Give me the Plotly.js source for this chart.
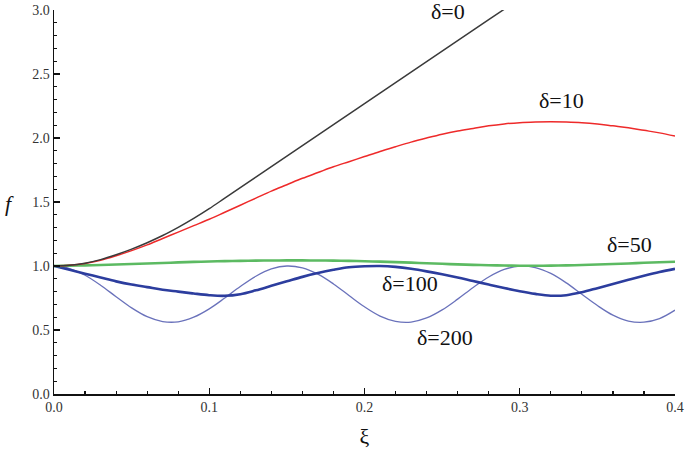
<!DOCTYPE html>
<html>
<head>
<meta charset="utf-8">
<script src="https://cdn.plot.ly/plotly-3.0.1.min.js"></script>
<style>
  html, body { margin: 0; padding: 0; background: #fff; }
  #chart { width: 685px; height: 453px; }
</style>
</head>
<body>
<div id="chart"></div>
<script>
// xi values shared by most curves
var xi = [0.00, 0.01, 0.02, 0.03, 0.04, 0.05, 0.06, 0.07, 0.08, 0.09,
          0.10, 0.11, 0.12, 0.13, 0.14, 0.15, 0.16, 0.17, 0.18, 0.19,
          0.20, 0.21, 0.22, 0.23, 0.24, 0.25, 0.26, 0.27, 0.28, 0.29,
          0.30, 0.31, 0.32, 0.33, 0.34, 0.35, 0.36, 0.37, 0.38, 0.39, 0.40];

// delta = 0 stops where it leaves the top of the plot
var xi0 = [0.00, 0.01, 0.02, 0.03, 0.04, 0.05, 0.06, 0.07, 0.08, 0.09,
           0.10, 0.11, 0.12, 0.13, 0.14, 0.15, 0.16, 0.17, 0.18, 0.19,
           0.20, 0.21, 0.22, 0.23, 0.24, 0.25, 0.26, 0.27, 0.28, 0.29];
var f0 = [1.000, 1.005, 1.022, 1.05, 1.088, 1.132, 1.182, 1.238, 1.302, 1.372,
          1.448, 1.53, 1.612, 1.694, 1.776, 1.858, 1.94, 2.022, 2.104, 2.186,
          2.268, 2.35, 2.432, 2.514, 2.596, 2.678, 2.76, 2.842, 2.924, 3.006];

var f10 = [1.000, 1.005, 1.02, 1.045, 1.08, 1.12, 1.165, 1.215, 1.265, 1.315,
           1.365, 1.42, 1.475, 1.53, 1.585, 1.635, 1.685, 1.73, 1.775, 1.815,
           1.855, 1.895, 1.932, 1.968, 2.00, 2.03, 2.055, 2.075, 2.095, 2.11,
           2.12, 2.125, 2.127, 2.125, 2.12, 2.11, 2.095, 2.08, 2.06, 2.04, 2.015];

var f50 = [1.000, 1.003, 1.005, 1.008, 1.012, 1.016, 1.02, 1.024, 1.028, 1.032,
           1.035, 1.038, 1.04, 1.042, 1.043, 1.044, 1.044, 1.043, 1.042, 1.04,
           1.037, 1.034, 1.03, 1.026, 1.022, 1.017, 1.013, 1.009, 1.006, 1.004,
           1.002, 1.002, 1.003, 1.005, 1.008, 1.012, 1.016, 1.02, 1.025, 1.029, 1.033];

var f100 = [1.000, 0.97, 0.94, 0.91, 0.88, 0.855, 0.835, 0.815, 0.80, 0.785,
            0.772, 0.767, 0.78, 0.81, 0.845, 0.88, 0.915, 0.945, 0.97, 0.99,
            0.998, 1.000, 0.993, 0.978, 0.958, 0.935, 0.91, 0.882, 0.855, 0.828,
            0.803, 0.782, 0.768, 0.772, 0.795, 0.827, 0.86, 0.893, 0.924, 0.953, 0.978];

var f200 = [1.000, 0.98, 0.928, 0.85, 0.76, 0.673, 0.604, 0.566, 0.564, 0.60,
            0.665, 0.75, 0.84, 0.92, 0.977, 1.000, 0.985, 0.936, 0.86, 0.77,
            0.681, 0.609, 0.568, 0.562, 0.594, 0.657, 0.741, 0.832, 0.914, 0.973,
            0.999, 0.988, 0.942, 0.868, 0.779, 0.691, 0.616, 0.57, 0.561, 0.589, 0.655];

var xTicks = [0, 0.1, 0.2, 0.3, 0.4];
var xTickText = ['0.0', '0.1', '0.2', '0.3', '0.4'];
var yTicks = [0, 0.5, 1, 1.5, 2, 2.5, 3];
var yTickText = ['0.0', '0.5', '1.0', '1.5', '2.0', '2.5', '3.0'];

var labels = ['δ=0', 'δ=10', 'δ=50', 'δ=100', 'δ=200'];
var labelX = [0.254, 0.327, 0.3705, 0.229, 0.252];
var labelY = [2.99, 2.29, 1.17, 0.86, 0.445];

var data = [
    { x: xi, y: f200, type: 'scatter', mode: 'lines', name: labels[4],
      line: { color: '#6a72bb', width: 1.3, shape: 'spline' } },
    { x: xi, y: f100, type: 'scatter', mode: 'lines', name: labels[3],
      line: { color: '#2c3d9e', width: 2.6, shape: 'spline' } },
    { x: xi, y: f50, type: 'scatter', mode: 'lines', name: labels[2],
      line: { color: '#5cba62', width: 2.6, shape: 'spline' } },
    { x: xi, y: f10, type: 'scatter', mode: 'lines', name: labels[1],
      line: { color: '#ee2a2a', width: 1.5, shape: 'spline' } },
    { x: xi0, y: f0, type: 'scatter', mode: 'lines', name: labels[0],
      line: { color: '#3a3a3a', width: 1.5, shape: 'spline' } }
];

var annos = labels.map(function (t, i) {
    return { x: labelX[i], y: labelY[i], text: t, showarrow: false,
             xref: 'x', yref: 'y',
             font: { family: 'Liberation Serif, Times New Roman, serif', size: 22, color: '#111' } };
});
annos.push({ x: -0.082, y: 0.495, xref: 'paper', yref: 'paper', text: '<i>f</i>',
             showarrow: false,
             font: { family: 'Liberation Serif, serif', size: 22, color: '#111' } });

var tickFont = { family: 'Liberation Serif, Times New Roman, serif', size: 14, color: '#333' };

var layout = {
    width: 685,
    height: 453,
    showlegend: false,
    paper_bgcolor: '#fff',
    plot_bgcolor: '#fff',
    margin: { l: 54, r: 10, t: 10, b: 59 },
    xaxis: {
        range: [0, 0.4],
        tickmode: 'array',
        tickvals: xTicks,
        ticktext: xTickText,
        ticklabeloverflow: 'allow',
        ticks: 'inside',
        ticklen: 6,
        tickwidth: 1.2,
        tickcolor: '#111',
        showline: true,
        linecolor: '#111',
        linewidth: 1.5,
        showgrid: false,
        zeroline: false,
        tickfont: tickFont,
        minor: { ticks: 'inside', dtick: 0.02, ticklen: 3, tickcolor: '#111', showgrid: false },
        title: { text: 'ξ', standoff: 14,
                 font: { family: 'Liberation Serif, serif', size: 22, color: '#111' } }
    },
    yaxis: {
        range: [0, 3],
        tickmode: 'array',
        tickvals: yTicks,
        ticktext: yTickText,
        ticklabeloverflow: 'allow',
        ticks: 'inside',
        ticklen: 6,
        tickwidth: 1.2,
        tickcolor: '#111',
        showline: true,
        linecolor: '#111',
        linewidth: 1.5,
        showgrid: false,
        zeroline: false,
        tickfont: tickFont,
        minor: { ticks: 'inside', dtick: 0.1, ticklen: 3, tickcolor: '#111', showgrid: false }
    },
    annotations: annos
};

Plotly.newPlot('chart', data, layout, { displayModeBar: false, staticPlot: true });
</script>
</body>
</html>
